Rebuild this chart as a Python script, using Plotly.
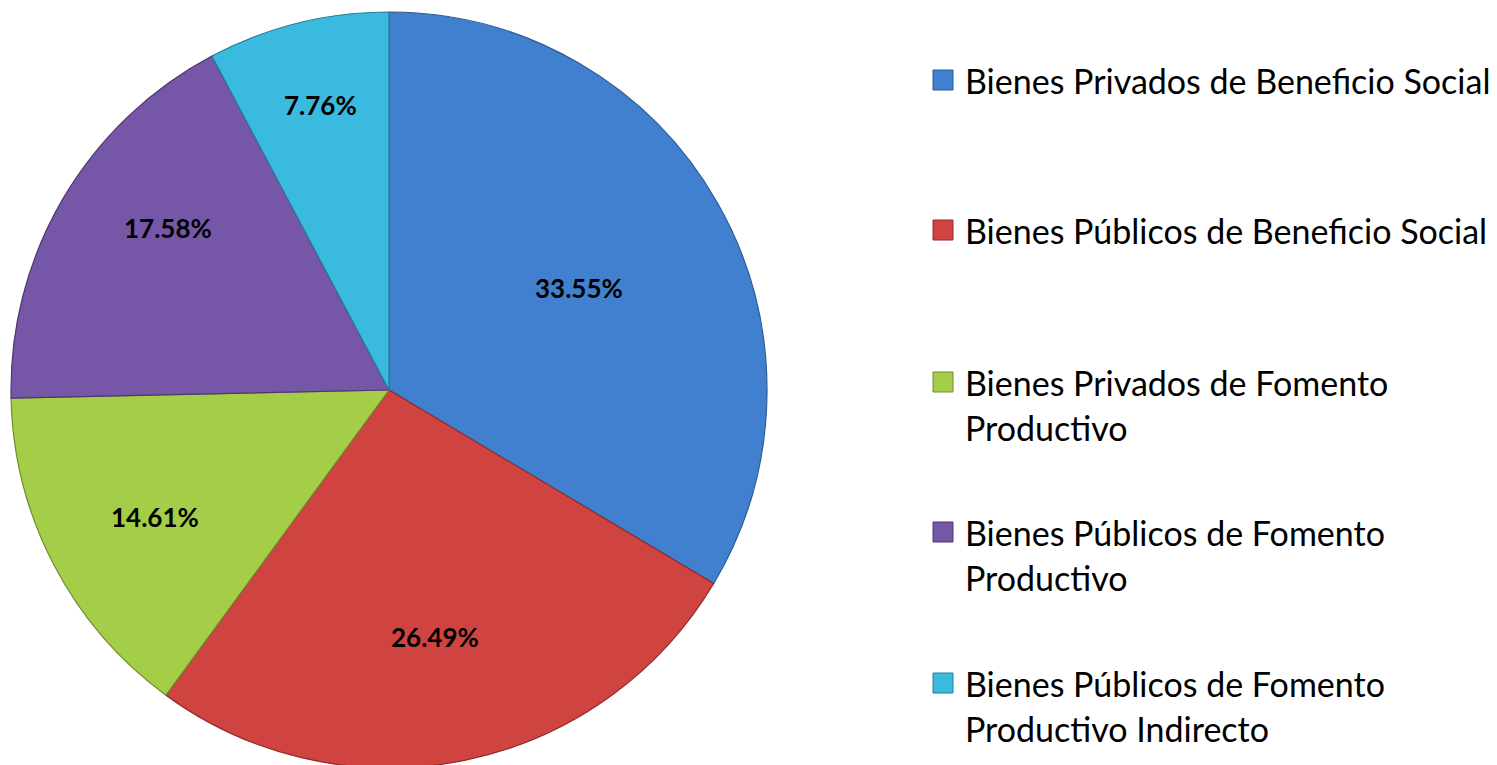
import math
import textwrap
import plotly.graph_objects as go

categories = [
    "Bienes Privados de Beneficio Social",
    "Bienes Públicos de Beneficio Social",
    "Bienes Privados de Fomento Productivo",
    "Bienes Públicos de Fomento Productivo",
    "Bienes Públicos de Fomento Productivo Indirecto",
]
values = [33.55, 26.49, 14.61, 17.58, 7.76]
colors = ["#4080CF", "#CF4440", "#A4CE48", "#7656A6", "#3BBADF"]
edge_colors = ["#2C5A94", "#8E2C2A", "#6E8E2C", "#4E3672", "#237E99"]
label_radius = [0.57, 0.665, 0.705, 0.725, 0.775]  # fraction of radius for % labels
label_angle_shift = [1.2, 1.0, -1.0, 5.8, 0.4]      # degrees, label placement tweak

W, H = 1497, 765
OFF = 8  # page body margin offset
FONT = "Lato"

# pie geometry in figure pixels
CX, CY, R = 389 - OFF, 390 - OFF, 378

fig = go.Figure()
fig.add_trace(go.Pie(
    labels=categories,
    values=values,
    sort=False,
    direction="clockwise",
    rotation=0,
    marker=dict(colors=colors, line=dict(color=edge_colors, width=1.2)),
    textinfo="none",
    showlegend=False,
    hoverinfo="label+value",
    domain=dict(x=[(CX - R) / W, (CX + R) / W], y=[1 - (CY + R) / H, 1 - (CY - R) / H]),
))

# percentage labels at each slice's mid-angle
total = sum(values)
cum = 0.0
for v, f, da in zip(values, label_radius, label_angle_shift):
    mid = (cum + v / 2) / total * 2 * math.pi + math.radians(da)
    cum += v
    px = CX + f * R * math.sin(mid)
    py = CY - f * R * math.cos(mid)
    fig.add_annotation(
        x=px / W, y=1 - py / H, xref="paper", yref="paper",
        text=f"<b>{v:.2f}%</b>", showarrow=False, xanchor="center", yanchor="middle",
        font=dict(family=FONT, size=26, color="#000000"),
    )

# legend drawn as shapes + annotations
row_tops = [80, 230, 382, 532, 683]  # y centre of first text line (px from top)
line_gap = 45
for cat, col, edge, yc in zip(categories, colors, edge_colors, row_tops):
    yc -= OFF
    fig.add_shape(
        type="rect", xref="paper", yref="paper",
        x0=(933 - OFF) / W, x1=(953 - OFF) / W, y0=1 - (yc - 10) / H, y1=1 - (yc + 10) / H,
        fillcolor=col, line=dict(color=edge, width=1),
    )
    for i, line in enumerate(textwrap.wrap(cat, 35)):
        fig.add_annotation(
            x=(963 - OFF) / W, y=1 - (yc + i * line_gap) / H, xref="paper", yref="paper",
            text=line, showarrow=False, xanchor="left", yanchor="middle",
            font=dict(family=FONT, size=34, color="#000000"),
        )

fig.update_layout(
    width=W, height=H,
    margin=dict(l=0, r=0, t=0, b=0),
    paper_bgcolor="white", plot_bgcolor="white",
)
fig.write_html("out.html")
